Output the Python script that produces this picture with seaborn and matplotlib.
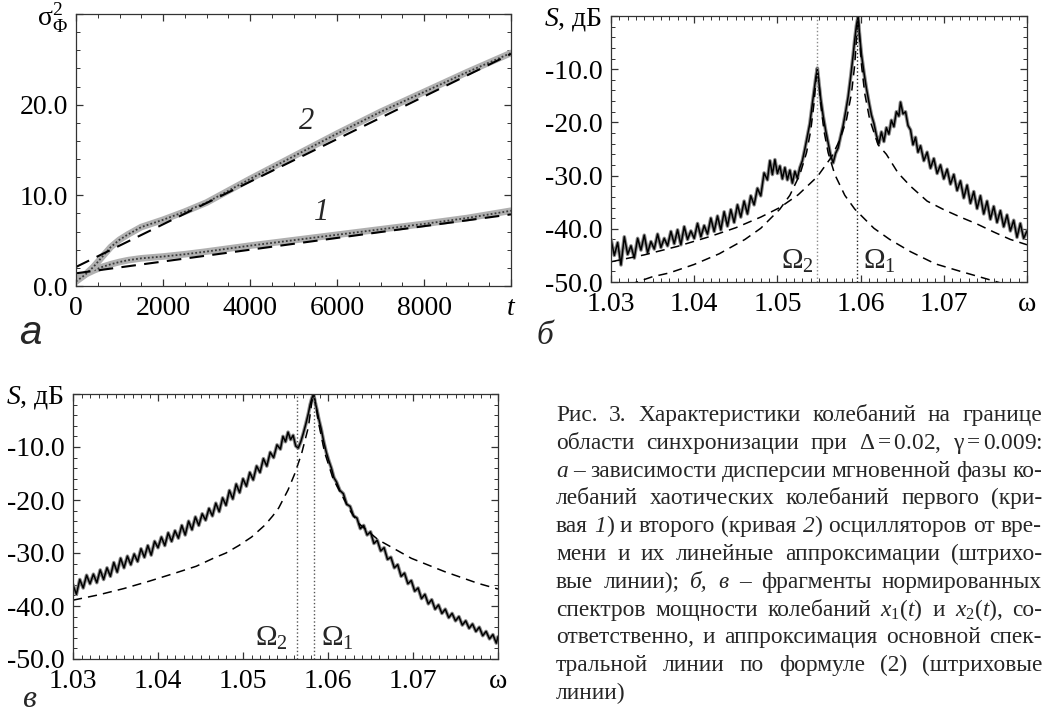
import re
import numpy as np
import pandas as pd
import seaborn as sns
import matplotlib
matplotlib.use("Agg")
import matplotlib.pyplot as plt
from matplotlib.ticker import MultipleLocator

# ---- panel a: phase variance vs time ----
a_time = [0, 200, 400, 600, 800, 1000, 1200, 1500, 2000, 2500, 3000,
          4000, 5000, 6000, 7000, 8000, 9000, 10000]
a_var1 = [0.8, 1.25, 1.7, 2.1, 2.4, 2.65, 2.85, 3.05, 3.25, 3.5, 3.8,
          4.45, 5.05, 5.65, 6.25, 6.85, 7.5, 8.3]
a_var2 = [0.5, 1.2, 2.1, 3.2, 4.3, 5.1, 5.7, 6.5, 7.3, 8.2, 9.2,
          11.8, 14.3, 16.8, 19.2, 21.4, 23.6, 25.7]
a_fit_time = [0, 10000]
a_fit1 = [1.4, 7.9]
a_fit2 = [2.1, 25.6]
a_xticks = [0, 2000, 4000, 6000, 8000, 10000]
a_xticklabels = ["0", "2000", "4000", "6000", "8000", "$t$"]
a_yticks = [0, 10, 20, 30]
a_yticklabels = ["0.0", "10.0", "20.0", r"$\mathrm{\sigma}_{\Phi}^{2}$"]

# ---- panel b: spectrum of x1 ----
b_freq = [1.0300, 1.0304, 1.0308, 1.0312, 1.0316, 1.0320, 1.0324, 1.0328, 1.0332, 1.0336,
          1.0340, 1.0344, 1.0348, 1.0352, 1.0356, 1.0360, 1.0364, 1.0368, 1.0372, 1.0376,
          1.0380, 1.0384, 1.0388, 1.0392, 1.0396, 1.0400, 1.0404, 1.0408, 1.0412, 1.0416,
          1.0420, 1.0424, 1.0428, 1.0432, 1.0436, 1.0440, 1.0444, 1.0448, 1.0452, 1.0456,
          1.0460, 1.0464, 1.0468, 1.0472, 1.0476, 1.0480, 1.0484, 1.0488, 1.0491, 1.0494,
          1.0497, 1.0500, 1.0503, 1.0506, 1.0509, 1.0512, 1.0515, 1.0518, 1.0521, 1.0524,
          1.0527, 1.0530, 1.0533, 1.0536, 1.0539, 1.0542, 1.0544, 1.0546, 1.0548, 1.0550,
          1.0552, 1.0555, 1.0558, 1.0561, 1.0564, 1.0567, 1.0570, 1.0573, 1.0576, 1.0579,
          1.0582, 1.0585, 1.0588, 1.0591, 1.0593, 1.0595, 1.0597, 1.0599, 1.0601, 1.0604,
          1.0607, 1.0610, 1.0613, 1.0616, 1.0619, 1.0622, 1.0625, 1.0628, 1.0631, 1.0634,
          1.0637, 1.0640, 1.0643, 1.0646, 1.0648, 1.0651, 1.0654, 1.0657, 1.0660, 1.0663,
          1.0666, 1.0669, 1.0672, 1.0676, 1.0680, 1.0684, 1.0688, 1.0692, 1.0696, 1.0700,
          1.0704, 1.0708, 1.0712, 1.0716, 1.0720, 1.0724, 1.0728, 1.0732, 1.0736, 1.0740,
          1.0744, 1.0748, 1.0752, 1.0756, 1.0760, 1.0764, 1.0768, 1.0772, 1.0776, 1.0780,
          1.0784, 1.0788, 1.0792, 1.0796, 1.0800]
b_level = [-42.0, -45.0, -42.6, -46.8, -41.5, -44.8, -43.2, -45.5, -41.8, -44.0,
           -41.2, -44.5, -42.4, -43.8, -41.0, -43.5, -41.8, -43.2, -40.5, -42.8,
           -40.2, -43.0, -39.6, -42.0, -40.4, -41.8, -39.0, -41.5, -39.4, -41.0,
           -38.0, -40.5, -37.6, -40.2, -36.8, -39.5, -36.4, -38.8, -35.5, -37.8,
           -34.8, -37.2, -33.8, -35.5, -32.4, -33.8, -29.5, -30.8, -27.2, -29.8,
           -27.0, -29.6, -28.2, -30.6, -28.5, -30.8, -29.0, -31.4, -29.2, -30.5,
           -28.5, -27.2, -25.0, -22.6, -20.2, -16.5, -14.2, -11.8, -9.8, -12.6,
           -15.5, -18.8, -21.5, -23.8, -26.2, -27.6, -25.8, -24.8, -22.6, -20.6,
           -18.0, -15.2, -11.5, -7.4, -4.4, -1.8, -0.1, -4.0, -7.2, -10.6,
           -13.6, -16.2, -18.6, -20.2, -22.4, -24.0, -21.8, -23.6, -21.0, -22.2,
           -19.6, -20.8, -18.0, -18.8, -16.2, -18.4, -18.0, -20.6, -21.4, -24.2,
           -22.8, -25.6, -24.4, -27.2, -25.6, -28.6, -26.8, -29.6, -28.0, -30.6,
           -28.8, -31.6, -29.8, -32.8, -31.0, -34.2, -31.8, -35.2, -33.0, -36.2,
           -33.8, -37.2, -34.8, -38.2, -35.8, -38.8, -36.6, -39.6, -37.4, -40.4,
           -38.4, -41.6, -39.0, -41.8, -40.4]
b_fit1_freq = [1.0300, 1.0340, 1.0380, 1.0420, 1.0450, 1.0480, 1.0503, 1.0525, 1.0548,
               1.0565, 1.0575, 1.0583, 1.0589, 1.0593, 1.0595, 1.0597, 1.0599, 1.0601,
               1.0605, 1.0611, 1.0621, 1.0631, 1.0645, 1.0660, 1.0680, 1.0700, 1.0720,
               1.0740, 1.0760, 1.0780, 1.0800]
b_fit1_level = [-46.2, -44.9, -43.3, -41.4, -39.8, -37.8, -36.0, -33.6, -30.2,
                -26.5, -23.3, -19.5, -14.6, -9.1, -4.4, 0.0, -4.4, -9.1,
                -14.6, -19.5, -24.2, -26.0, -29.5, -32.0, -34.8, -36.4, -37.8,
                -39.1, -40.6, -42.0, -43.0]
b_fit2_freq = [1.0322, 1.0350, 1.0370, 1.0400, 1.0430, 1.0461, 1.0480, 1.0503, 1.0515,
               1.0527, 1.0535, 1.0540, 1.0544, 1.0546, 1.0548, 1.0550, 1.0552, 1.0556,
               1.0561, 1.0569, 1.0581, 1.0593, 1.0616, 1.0635, 1.0660, 1.0690, 1.0720,
               1.0760, 1.0775]
b_fit2_level = [-50.5, -49.0, -48.3, -46.7, -44.7, -42.0, -39.9, -36.3, -33.7,
                -29.8, -25.7, -21.6, -16.4, -12.7, -10.0, -12.7, -16.4, -21.6,
                -25.7, -29.8, -33.7, -36.3, -39.9, -42.0, -44.3, -46.6, -48.0,
                -49.8, -50.5]
b_omega = [1.0548, 1.0596]

# ---- panel c: spectrum of x2 ----
c_freq = [1.0300, 1.0304, 1.0308, 1.0312, 1.0316, 1.0320, 1.0324, 1.0328, 1.0332, 1.0336,
          1.0340, 1.0344, 1.0348, 1.0352, 1.0356, 1.0360, 1.0364, 1.0368, 1.0372, 1.0376,
          1.0380, 1.0384, 1.0388, 1.0392, 1.0396, 1.0400, 1.0404, 1.0408, 1.0412, 1.0416,
          1.0420, 1.0424, 1.0428, 1.0432, 1.0436, 1.0440, 1.0444, 1.0448, 1.0452, 1.0456,
          1.0460, 1.0464, 1.0468, 1.0472, 1.0476, 1.0480, 1.0484, 1.0488, 1.0492, 1.0496,
          1.0500, 1.0504, 1.0508, 1.0512, 1.0516, 1.0520, 1.0524, 1.0528, 1.0532, 1.0536,
          1.0540, 1.0544, 1.0547, 1.0550, 1.0553, 1.0556, 1.0559, 1.0562, 1.0565, 1.0568,
          1.0571, 1.0574, 1.0577, 1.0579, 1.0581, 1.0583, 1.0585, 1.0587, 1.0589, 1.0592,
          1.0595, 1.0598, 1.0601, 1.0604, 1.0607, 1.0610, 1.0614, 1.0618, 1.0622, 1.0626,
          1.0630, 1.0634, 1.0638, 1.0642, 1.0646, 1.0650, 1.0654, 1.0658, 1.0662, 1.0666,
          1.0670, 1.0674, 1.0678, 1.0682, 1.0686, 1.0690, 1.0694, 1.0698, 1.0702, 1.0706,
          1.0710, 1.0714, 1.0718, 1.0722, 1.0726, 1.0730, 1.0734, 1.0738, 1.0742, 1.0746,
          1.0750, 1.0754, 1.0758, 1.0762, 1.0766, 1.0770, 1.0774, 1.0778, 1.0782, 1.0786,
          1.0790, 1.0794, 1.0798, 1.0800]
c_level = [-36.0, -37.8, -35.0, -36.6, -34.2, -35.8, -34.0, -35.6, -33.2, -35.0,
           -32.8, -34.4, -31.8, -33.6, -31.0, -32.8, -30.6, -32.2, -30.2, -31.6,
           -29.2, -30.8, -28.6, -30.4, -27.8, -29.0, -27.0, -28.6, -26.2, -27.8,
           -25.8, -27.2, -24.8, -26.6, -24.0, -25.6, -23.2, -24.8, -22.6, -23.8,
           -21.6, -23.0, -20.6, -22.2, -19.6, -21.0, -18.2, -19.8, -17.0, -18.6,
           -16.0, -17.4, -14.8, -16.2, -13.6, -14.8, -12.2, -13.6, -11.0, -12.0,
           -9.6, -10.4, -8.0, -9.0, -7.2, -8.6, -7.8, -9.8, -10.2, -9.0,
           -7.4, -5.6, -3.6, -2.0, -0.8, 0.0, -1.6, -3.0, -4.6, -6.6,
           -9.0, -11.0, -12.6, -14.0, -15.8, -16.6, -18.2, -18.8, -20.8, -21.2,
           -23.0, -23.4, -25.4, -24.8, -26.6, -26.0, -28.2, -27.6, -29.6, -29.0,
           -31.2, -30.8, -32.8, -32.2, -34.4, -33.8, -35.8, -35.2, -37.2, -36.6,
           -38.6, -37.8, -39.6, -38.8, -40.6, -39.8, -41.4, -40.6, -42.2, -41.4,
           -42.8, -42.0, -43.6, -42.8, -44.2, -43.4, -44.8, -44.0, -45.6, -44.8,
           -46.2, -45.4, -47.0, -45.8]
c_fit_freq = [1.0300, 1.0330, 1.0360, 1.0390, 1.0420, 1.0445, 1.0465, 1.0480, 1.0495,
              1.0510, 1.0526, 1.0535, 1.0542, 1.0553, 1.0561, 1.0569, 1.0577, 1.0581,
              1.0583, 1.0585, 1.0589, 1.0596, 1.0606, 1.0626, 1.0636, 1.0659, 1.0698,
              1.0737, 1.0776, 1.0800]
c_fit_level = [-38.9, -37.9, -36.7, -35.3, -33.8, -32.5, -31.0, -30.0, -28.6,
               -27.0, -24.7, -23.0, -21.5, -18.1, -15.0, -11.2, -6.2, -1.5,
               0.0, -1.5, -5.5, -11.0, -16.0, -22.0, -24.4, -27.5, -31.0,
               -33.5, -35.7, -36.8]
c_omega = [1.0564, 1.0583]

s_xticks = [1.03, 1.04, 1.05, 1.06, 1.07, 1.08]
s_xticklabels = ["1.03", "1.04", "1.05", "1.06", "1.07", "ω"]
s_yticks = [-50, -40, -30, -20, -10, 0]
s_yticklabels = ["-50.0", "-40.0", "-30.0", "-20.0", "-10.0", "$S$, дБ"]

caption_lines = [
    "Рис. 3. Характеристики колебаний на границе",
    r"области синхронизации при $\Delta=0.02$, $\mathrm{\gamma}=0.009$:",
    "*а* – зависимости дисперсии мгновенной фазы ко-",
    "лебаний хаотических колебаний первого (кри-",
    "вая *1*) и второго (кривая *2*) осцилляторов от вре-",
    "мени и их линейные аппроксимации (штрихо-",
    "вые линии); *б,* *в* – фрагменты нормированных",
    r"спектров мощности колебаний $x_1(t)$ и $x_2(t)$, со-",
    "ответственно, и аппроксимация основной спек-",
    "тральной линии по формуле (2) (штриховые",
    "линии)",
]

sns.set_theme(style="ticks")
plt.rcParams["font.family"] = ["Liberation Serif", "DejaVu Serif"]
plt.rcParams["mathtext.fontset"] = "custom"
plt.rcParams["mathtext.rm"] = "Liberation Serif"
plt.rcParams["mathtext.it"] = "Liberation Serif:italic"
plt.rcParams["mathtext.bf"] = "Liberation Serif:bold"
plt.rcParams["axes.unicode_minus"] = False

W, H = 1053, 715
fig = plt.figure(figsize=(W / 100, H / 100), dpi=100)
fig.patch.set_facecolor("white")


def box(left, top, right, bottom):
    return [left / W, 1 - bottom / H, (right - left) / W, (bottom - top) / H]


def frame(ax, xminor, yminor):
    ax.set_facecolor("white")
    ax.grid(False)
    for s in ax.spines.values():
        s.set_visible(True)
        s.set_color("#333333")
        s.set_linewidth(0.9)
    ax.xaxis.set_minor_locator(MultipleLocator(xminor))
    ax.yaxis.set_minor_locator(MultipleLocator(yminor))
    ax.tick_params(which="both", direction="in", top=True, right=True,
                   color="#333333", labelcolor="black", labelsize=20)
    ax.tick_params(which="major", length=5, width=0.9)
    ax.tick_params(which="minor", length=3, width=0.7)
    ax.tick_params(axis="y", pad=6)
    ax.tick_params(axis="x", pad=7)
    ax.set_xlabel("")
    ax.set_ylabel("")


# ---- panel a ----
ax_a = fig.add_axes(box(76, 14, 511, 286))
for var in (a_var1, a_var2):
    sns.lineplot(x=a_time, y=var, ax=ax_a, color="#b0b0b0", lw=4.8, estimator=None)
    sns.lineplot(x=a_time, y=var, ax=ax_a, color="#3a3a3a", lw=1.3,
                 linestyle=(0, (1, 1.2)), estimator=None)
for fit in (a_fit1, a_fit2):
    sns.lineplot(x=a_fit_time, y=fit, ax=ax_a, color="black", lw=1.5,
                 linestyle=(0, (7, 4)), estimator=None)
ax_a.set_xlim(0, 10000)
ax_a.set_ylim(0, 30)
ax_a.set_xticks(a_xticks)
ax_a.set_xticklabels(a_xticklabels)
ax_a.set_yticks(a_yticks)
ax_a.set_yticklabels(a_yticklabels)
frame(ax_a, 500, 2)
ax_a.text(5300, 17.3, "2", fontsize=22, style="italic", ha="center", va="baseline")
ax_a.text(5650, 7.3, "1", fontsize=22, style="italic", ha="center", va="baseline")


def spectrum(ax, freq, level, fits, omegas, omega_colors, lab_shift):
    sns.lineplot(x=freq, y=level, ax=ax, color="#8c8c8c", lw=2.6, estimator=None)
    sns.lineplot(x=freq, y=level, ax=ax, color="black", lw=1.1, estimator=None)
    for fx, fy in fits:
        sns.lineplot(x=fx, y=fy, ax=ax, color="black", lw=1.1,
                     linestyle=(0, (6, 4)), estimator=None)
    for om, col in zip(omegas, omega_colors):
        ax.axvline(om, color=col, ls=":", lw=1.0)
    ax.text(omegas[0] - lab_shift[0], -47.6, r"$\Omega_2$", fontsize=21,
            ha="right", va="baseline")
    ax.text(omegas[1] + lab_shift[1], -47.6, r"$\Omega_1$", fontsize=21,
            ha="left", va="baseline")
    ax.set_xlim(1.03, 1.08)
    ax.set_ylim(-50, 0)
    ax.set_xticks(s_xticks)
    ax.set_xticklabels(s_xticklabels)
    ax.set_yticks(s_yticks)
    ax.set_yticklabels(s_yticklabels)
    frame(ax, 0.001, 2)


ax_b = fig.add_axes(box(611, 16, 1027, 282))
spectrum(ax_b, b_freq, b_level,
         [(b_fit1_freq, b_fit1_level), (b_fit2_freq, b_fit2_level)],
         b_omega, ["#8a8a8a", "#222222"], (0.0004, 0.0007))

ax_c = fig.add_axes(box(73, 394, 498, 659))
spectrum(ax_c, c_freq, c_level, [(c_fit_freq, c_fit_level)],
         c_omega, ["#555555", "#555555"], (0.0011, 0.0009))

# panel letters
fig.text(30 / W, 1 - 344 / H, "а", fontsize=29, style="italic",
         family=["Liberation Sans", "DejaVu Sans"], ha="center", va="baseline")
fig.text(545 / W, 1 - 344 / H, "б", fontsize=24, style="italic", ha="center", va="baseline")
fig.text(29 / W, 1 - 707 / H, "в", fontsize=23, style="italic", ha="center", va="baseline")

# caption, justified by hand
renderer = fig.canvas.get_renderer()
cap_left, cap_right = 556, 1042
cap_base, cap_step = 421, 27.8
cap_size = 16.8
for i, line in enumerate(caption_lines):
    y = 1 - (cap_base + cap_step * i) / H
    words = []
    for word in line.split(" "):
        pieces = []
        for part in re.split(r"(\*[^*]+\*)", word):
            if not part:
                continue
            italic = part.startswith("*")
            txt = part.strip("*")
            art = fig.text(0, y, txt, fontsize=cap_size, va="baseline", ha="left",
                           style="italic" if italic else "normal")
            pieces.append((art, art.get_window_extent(renderer).width))
        words.append(pieces)
    widths = [sum(w for _, w in p) for p in words]
    if i < len(caption_lines) - 1 and len(words) > 1:
        gap = (cap_right - cap_left - sum(widths)) / (len(words) - 1)
    else:
        gap = 5
    x = cap_left
    for pieces, wsum in zip(words, widths):
        px = x
        for art, w in pieces:
            art.set_x(px / W)
            px += w
        x += wsum + gap

fig.savefig("out.png", dpi=100, facecolor="white")
